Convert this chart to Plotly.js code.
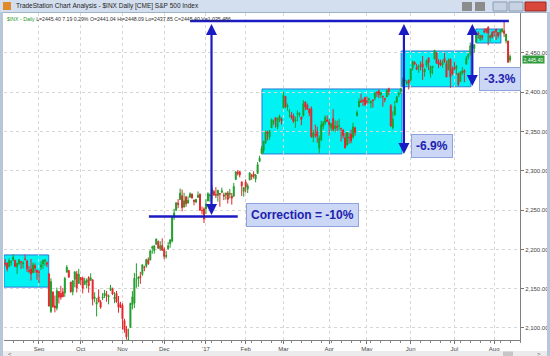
<!DOCTYPE html>
<html><head><meta charset="utf-8">
<script src="https://cdn.plot.ly/plotly-3.0.1.min.js"></script>
<style>html,body{margin:0;padding:0;background:#fff;overflow:hidden}#chart{width:550px;height:356px}</style>
</head><body><div id="chart"></div>
<script>
const dates = [
"2016-08-09","2016-08-10","2016-08-11","2016-08-12","2016-08-15","2016-08-16","2016-08-17","2016-08-18","2016-08-19","2016-08-22","2016-08-23","2016-08-24","2016-08-25","2016-08-26","2016-08-29","2016-08-30","2016-08-31",
"2016-09-01","2016-09-02","2016-09-06","2016-09-07","2016-09-08","2016-09-09","2016-09-12","2016-09-13","2016-09-14","2016-09-15","2016-09-16","2016-09-19","2016-09-20","2016-09-21","2016-09-22","2016-09-23","2016-09-26","2016-09-27","2016-09-28","2016-09-29","2016-09-30",
"2016-10-03","2016-10-04","2016-10-05","2016-10-06","2016-10-07","2016-10-10","2016-10-11","2016-10-12","2016-10-13","2016-10-14","2016-10-17","2016-10-18","2016-10-19","2016-10-20","2016-10-21","2016-10-24","2016-10-25","2016-10-26","2016-10-27","2016-10-28","2016-10-31",
"2016-11-01","2016-11-02","2016-11-03","2016-11-04","2016-11-07","2016-11-08","2016-11-09","2016-11-10","2016-11-11","2016-11-14","2016-11-15","2016-11-16","2016-11-17","2016-11-18","2016-11-21","2016-11-22","2016-11-23","2016-11-25","2016-11-28","2016-11-29","2016-11-30",
"2016-12-01","2016-12-02","2016-12-05","2016-12-06","2016-12-07","2016-12-08","2016-12-09","2016-12-12","2016-12-13","2016-12-14","2016-12-15","2016-12-16","2016-12-19","2016-12-20","2016-12-21","2016-12-22","2016-12-23","2016-12-27","2016-12-28","2016-12-29","2016-12-30",
"2017-01-03","2017-01-04","2017-01-05","2017-01-06","2017-01-09","2017-01-10","2017-01-11","2017-01-12","2017-01-13","2017-01-17","2017-01-18","2017-01-19","2017-01-20","2017-01-23","2017-01-24","2017-01-25","2017-01-26","2017-01-27","2017-01-30","2017-01-31",
"2017-02-01","2017-02-02","2017-02-03","2017-02-06","2017-02-07","2017-02-08","2017-02-09","2017-02-10","2017-02-13","2017-02-14","2017-02-15","2017-02-16","2017-02-17","2017-02-21","2017-02-22","2017-02-23","2017-02-24","2017-02-27","2017-02-28",
"2017-03-01","2017-03-02","2017-03-03","2017-03-06","2017-03-07","2017-03-08","2017-03-09","2017-03-10","2017-03-13","2017-03-14","2017-03-15","2017-03-16","2017-03-17","2017-03-20","2017-03-21","2017-03-22","2017-03-23","2017-03-24","2017-03-27","2017-03-28","2017-03-29","2017-03-30","2017-03-31",
"2017-04-03","2017-04-04","2017-04-05","2017-04-06","2017-04-07","2017-04-10","2017-04-11","2017-04-12","2017-04-13","2017-04-17","2017-04-18","2017-04-19","2017-04-20","2017-04-21","2017-04-24","2017-04-25","2017-04-26","2017-04-27","2017-04-28",
"2017-05-01","2017-05-02","2017-05-03","2017-05-04","2017-05-05","2017-05-08","2017-05-09","2017-05-10","2017-05-11","2017-05-12","2017-05-15","2017-05-16","2017-05-17","2017-05-18","2017-05-19","2017-05-22","2017-05-23","2017-05-24","2017-05-25","2017-05-26","2017-05-30","2017-05-31",
"2017-06-01","2017-06-02","2017-06-05","2017-06-06","2017-06-07","2017-06-08","2017-06-09","2017-06-12","2017-06-13","2017-06-14","2017-06-15","2017-06-16","2017-06-19","2017-06-20","2017-06-21","2017-06-22","2017-06-23","2017-06-26","2017-06-27","2017-06-28","2017-06-29","2017-06-30",
"2017-07-03","2017-07-05","2017-07-06","2017-07-07","2017-07-10","2017-07-11","2017-07-12","2017-07-13","2017-07-14","2017-07-17","2017-07-18","2017-07-19","2017-07-20","2017-07-21","2017-07-24","2017-07-25","2017-07-26","2017-07-27","2017-07-28","2017-07-31",
"2017-08-01","2017-08-02","2017-08-03","2017-08-04","2017-08-07","2017-08-08","2017-08-09","2017-08-10","2017-08-11"];

const openP = [
2182.2,2182.8,2178.0,2183.7,2186.1,2186.2,2177.8,2181.9,2184.2,2181.6,2187.8,2185.1,2173.3,2175.1,2170.2,2179.5,2173.6,
2171.3,2177.5,2181.6,2185.2,2182.8,2169.1,2120.9,2146.0,2127.9,2125.4,2146.5,2144.0,2145.9,2144.6,2170.9,2173.3,2158.5,2146.0,2161.9,2168.9,2156.5,
2164.3,2163.4,2155.2,2158.2,2164.2,2160.4,2161.4,2137.7,2130.3,2139.7,2133.0,2138.3,2140.8,2142.5,2139.4,2148.5,2149.7,2137.0,2144.1,2132.2,2129.8,
2128.7,2109.4,2098.8,2083.8,2100.6,2129.9,2131.6,2167.5,2162.7,2165.6,2168.3,2177.5,2178.6,2186.9,2186.4,2201.6,2198.6,2206.3,2210.2,2200.8,2205.0,
2200.2,2191.1,2200.7,2207.3,2210.7,2241.1,2249.7,2258.8,2263.3,2268.4,2253.8,2266.8,2259.2,2266.5,2270.5,2262.9,2260.3,2266.2,2270.2,2249.5,2251.6,
2251.6,2261.6,2268.2,2271.1,2273.6,2269.7,2268.6,2271.1,2272.7,2269.1,2269.1,2271.9,2270.0,2267.8,2267.9,2288.9,2298.6,2299.0,2286.0,2274.0,
2285.6,2276.7,2288.5,2294.3,2295.9,2289.6,2296.7,2312.3,2321.7,2326.1,2335.6,2349.6,2343.0,2354.9,2361.1,2367.5,2355.7,2365.2,2366.1,
2380.1,2394.8,2380.9,2375.2,2370.7,2369.8,2363.5,2372.5,2371.6,2368.6,2370.3,2387.7,2383.7,2378.2,2379.3,2343.0,2346.0,2350.4,2329.1,2339.8,2356.5,2361.3,2364.8,
2362.3,2354.8,2366.6,2353.8,2356.6,2357.2,2353.9,2352.2,2342.0,2332.6,2342.5,2346.8,2342.7,2354.7,2370.3,2381.5,2389.0,2389.7,2393.7,
2388.5,2391.1,2386.5,2389.8,2392.4,2399.9,2401.6,2396.8,2394.8,2392.4,2394.0,2404.6,2383.0,2354.7,2371.4,2387.2,2397.0,2401.4,2409.5,2414.5,2411.7,2415.6,
2415.7,2431.3,2437.8,2431.9,2432.0,2434.3,2436.4,2425.9,2434.2,2443.8,2424.1,2431.2,2442.6,2450.7,2439.3,2437.4,2434.7,2443.3,2436.3,2428.7,2442.4,2429.2,
2431.4,2430.8,2423.8,2413.5,2424.5,2427.4,2435.8,2445.0,2449.2,2459.5,2455.9,2463.9,2475.6,2467.4,2472.0,2477.9,2480.0,2482.8,2469.1,2475.9,
2477.1,2480.4,2476.0,2476.1,2477.1,2478.4,2465.4,2465.4,2441.0];

const highP = [
2187.7,2183.4,2188.5,2186.3,2193.8,2186.2,2183.1,2187.0,2185.0,2185.2,2193.4,2186.7,2179.0,2187.9,2183.5,2182.3,2173.8,
2173.6,2184.9,2186.6,2187.9,2184.9,2169.1,2163.3,2146.0,2141.3,2151.3,2146.5,2153.6,2150.8,2165.1,2180.0,2173.8,2158.5,2161.1,2172.4,2172.7,2175.3,
2164.4,2165.5,2164.0,2162.9,2165.9,2169.6,2161.6,2145.4,2138.2,2149.2,2135.7,2144.4,2148.4,2147.2,2142.6,2154.8,2151.4,2145.7,2147.1,2140.7,2133.3,
2131.5,2111.8,2102.6,2099.1,2132.0,2146.9,2170.1,2182.3,2165.9,2171.4,2180.8,2179.2,2188.1,2189.9,2198.7,2204.8,2204.7,2213.4,2211.1,2210.5,2214.1,
2202.6,2198.0,2209.4,2212.8,2241.6,2251.7,2259.8,2264.0,2277.5,2276.2,2272.1,2268.1,2267.5,2272.6,2271.2,2263.2,2263.8,2273.8,2271.3,2254.5,2253.6,
2263.9,2272.8,2271.5,2282.1,2275.5,2279.3,2275.3,2271.8,2278.7,2272.1,2272.0,2274.3,2277.0,2271.8,2284.6,2299.6,2301.0,2299.0,2286.0,2279.1,
2289.1,2284.0,2298.3,2296.2,2299.4,2295.9,2311.1,2319.2,2331.6,2337.6,2351.3,2351.3,2351.2,2366.7,2365.1,2368.3,2367.3,2371.5,2367.8,
2401.0,2394.8,2385.7,2378.8,2375.1,2373.1,2369.1,2376.9,2374.4,2368.6,2390.0,2388.1,2385.7,2379.6,2381.9,2351.8,2358.9,2356.2,2344.9,2363.8,2363.4,2370.4,2370.4,
2365.9,2360.5,2378.4,2364.2,2363.8,2366.4,2355.2,2352.7,2348.3,2349.1,2348.4,2352.6,2361.4,2356.2,2377.0,2392.5,2398.2,2392.1,2393.7,
2394.5,2392.9,2389.8,2391.4,2399.3,2401.4,2403.9,2399.7,2395.7,2392.4,2404.1,2405.8,2384.9,2375.7,2389.1,2395.5,2400.9,2405.6,2418.7,2416.7,2415.3,2416.0,
2430.1,2440.2,2439.6,2436.2,2435.3,2439.3,2446.2,2430.4,2441.5,2443.8,2434.0,2433.2,2453.8,2450.7,2442.2,2441.6,2441.4,2450.4,2440.2,2443.0,2442.7,2432.7,
2439.2,2434.9,2424.9,2426.9,2432.0,2429.3,2445.8,2449.3,2463.5,2462.8,2460.9,2473.8,2477.6,2472.5,2473.1,2481.2,2481.7,2484.0,2473.5,2478.0,
2478.5,2480.4,2476.0,2480.0,2481.0,2490.9,2474.4,2465.4,2448.1];

const lowP = [
2178.6,2172.0,2178.0,2179.4,2186.1,2178.1,2168.5,2180.5,2175.1,2176.0,2186.8,2171.3,2169.7,2160.4,2170.2,2170.4,2161.4,
2157.1,2173.6,2175.1,2179.1,2177.5,2127.8,2119.1,2125.8,2119.9,2122.4,2131.2,2135.9,2139.2,2139.6,2170.9,2164.0,2145.0,2141.6,2151.8,2145.2,2156.5,
2154.8,2144.0,2155.2,2150.3,2144.9,2160.4,2128.8,2132.8,2114.7,2133.0,2124.4,2135.5,2138.2,2133.4,2130.1,2146.9,2141.9,2131.6,2132.5,2119.4,2125.5,
2097.9,2094.0,2085.2,2083.8,2100.6,2123.6,2125.4,2151.2,2152.5,2156.1,2166.4,2172.2,2176.7,2180.4,2186.4,2194.5,2194.5,2206.3,2200.4,2198.2,2198.8,
2187.4,2188.4,2200.0,2202.2,2208.9,2237.6,2249.2,2252.4,2263.3,2248.4,2253.8,2254.2,2258.2,2266.1,2265.2,2256.1,2258.8,2266.2,2249.1,2244.6,2233.6,
2245.1,2261.6,2260.5,2264.1,2268.9,2265.3,2260.8,2254.3,2271.5,2262.8,2263.4,2258.4,2265.0,2257.0,2266.7,2288.9,2294.1,2291.6,2268.0,2267.2,
2272.4,2271.7,2287.9,2288.6,2290.2,2285.4,2296.6,2311.1,2321.4,2322.2,2334.8,2338.9,2339.6,2354.9,2358.3,2355.1,2352.9,2361.9,2359.0,
2380.1,2380.2,2376.7,2368.0,2365.5,2361.0,2354.5,2363.0,2368.5,2358.2,2368.9,2377.2,2377.6,2369.7,2341.9,2336.5,2342.1,2335.7,2322.3,2337.6,2352.9,2358.6,2362.6,
2344.7,2350.7,2350.5,2348.9,2350.7,2351.5,2337.3,2341.2,2329.0,2332.5,2334.5,2335.1,2340.9,2344.5,2369.2,2381.2,2386.8,2382.7,2382.4,
2384.8,2385.8,2379.8,2380.4,2389.4,2393.9,2392.4,2392.8,2381.7,2387.2,2393.9,2396.1,2356.2,2352.7,2370.4,2386.9,2393.9,2398.0,2408.0,2412.2,2409.4,2403.6,
2413.5,2427.7,2434.3,2428.1,2424.8,2427.9,2415.7,2420.0,2431.3,2428.3,2418.5,2422.9,2441.8,2436.6,2430.7,2433.3,2431.1,2437.0,2419.4,2428.0,2405.7,2421.7,
2428.7,2422.1,2407.7,2413.5,2422.3,2412.8,2435.8,2441.7,2446.7,2457.2,2450.3,2463.9,2468.4,2465.1,2466.3,2474.9,2474.9,2459.9,2464.7,2468.5,
2471.1,2466.5,2468.9,2472.1,2475.9,2470.3,2462.1,2437.8,2437.9];

const closeP = [
2181.7,2175.5,2185.8,2184.1,2190.2,2178.2,2182.2,2187.0,2183.9,2182.6,2186.9,2175.4,2172.5,2169.0,2180.4,2176.1,2171.0,
2170.9,2180.0,2186.5,2186.2,2181.3,2127.8,2159.0,2127.0,2125.8,2147.3,2139.2,2139.1,2139.8,2163.1,2177.2,2164.7,2146.1,2159.9,2171.4,2151.1,2168.3,
2161.2,2150.5,2159.7,2160.8,2153.7,2163.7,2136.7,2139.2,2132.6,2133.0,2126.5,2139.6,2144.3,2141.3,2141.2,2151.3,2143.2,2139.4,2133.0,2126.4,2126.2,
2111.7,2097.9,2088.7,2085.2,2131.5,2139.6,2163.3,2167.5,2164.5,2164.2,2180.4,2176.9,2187.1,2181.9,2198.2,2202.9,2204.7,2213.4,2201.7,2204.7,2198.8,
2191.1,2192.0,2204.7,2212.2,2241.4,2246.2,2259.5,2257.0,2271.7,2253.3,2262.0,2258.1,2262.5,2270.8,2265.2,2261.0,2263.8,2268.9,2249.9,2249.3,2238.8,
2257.8,2270.8,2269.0,2277.0,2268.9,2268.9,2275.3,2270.4,2274.6,2267.9,2271.9,2263.7,2271.3,2265.2,2280.1,2298.4,2296.7,2294.7,2280.9,2278.9,
2279.6,2280.9,2297.4,2292.6,2293.1,2294.7,2307.9,2316.1,2328.3,2337.6,2349.3,2347.2,2351.2,2365.4,2362.8,2363.8,2367.3,2369.7,2363.6,
2396.0,2381.9,2383.1,2375.3,2368.4,2363.0,2364.9,2372.6,2373.5,2365.5,2385.3,2381.4,2378.3,2373.5,2344.0,2348.5,2346.0,2344.0,2341.6,2358.6,2361.1,2368.1,2362.7,
2358.8,2360.2,2353.0,2357.5,2355.5,2357.2,2353.8,2344.9,2329.0,2349.0,2342.2,2338.2,2355.8,2348.7,2374.2,2388.6,2387.5,2388.8,2384.2,
2388.3,2391.2,2388.1,2389.5,2399.3,2399.4,2396.9,2399.6,2394.4,2390.9,2402.3,2400.7,2357.0,2365.7,2381.7,2394.0,2398.4,2404.4,2415.1,2415.8,2412.9,2411.8,
2430.1,2439.1,2436.1,2429.3,2433.1,2433.8,2431.8,2429.4,2440.4,2437.9,2432.5,2433.2,2453.5,2437.0,2435.6,2434.5,2438.3,2439.1,2419.4,2440.7,2419.7,2423.4,
2429.0,2432.5,2409.8,2425.2,2427.4,2425.5,2443.3,2447.8,2459.3,2459.1,2460.6,2473.8,2473.5,2472.5,2469.9,2477.1,2477.8,2475.4,2472.1,2470.3,
2476.4,2477.6,2472.2,2476.8,2480.9,2474.9,2474.0,2438.2,2445.4];

const monthLabels = ["Sep","Oct","Nov","Dec","'17","Feb","Mar","Apr","May","Jun","Jul","Aug"];
const yTickVals = [2100,2150,2200,2250,2300,2350,2400,2450];

const peakHigh = 2490.87;
const correctionLevel = 2241.8;
const lastPrice = 2445.40;
const titleText = "TradeStation Chart Analysis - $INX Daily [CME] S&amp;P 500 Index";
const statusSymbol = "$INX - Daily";
const statusValues = "L=2445.40 7.19 0.29% O=2441.04 Hi=2448.09 Lo=2437.85 C=2445.40 V=1,035,486";

// ---- build ----
const xi = dates.map((d, i) => i);
const pos = (d, off) => dates.indexOf(d) + (off || 0);
const tickVals = [];
for (let i = 1; i < dates.length; i++) if (dates[i].slice(0, 7) !== dates[i - 1].slice(0, 7)) tickVals.push(i);

const L = 4, R = 520, T = 13, B = 340;
const px = x => (x - L) / (R - L);
const py = y => (B - y) / (B - T);
const nb = s => s.replace(/ /g, "\u00a0");

const LINE = "#1b1bc4";
const CYAN = "#00f2f2";
const shapes = [];
const rect = (x0, x1, y0, y1, fill, extra) => Object.assign({type: "rect", xref: "paper", yref: "paper", x0: px(x0), x1: px(x1), y0: py(y1), y1: py(y0), fillcolor: fill, line: {width: 0}, layer: "above"}, extra || {});

// cyan range boxes
const boxes = [
  [-0.6, pos("2016-09-08", 0.9), 2152, 2193],
  [pos("2017-02-13", 0.2), pos("2017-05-24", 0.6), 2321.5, 2404.2],
  [pos("2017-05-24", 0.2), pos("2017-07-14", 0.3), 2407, 2452.5],
  [pos("2017-07-18", 0.8), pos("2017-08-04", 0.4), 2462.7, 2480.5]
];
boxes.forEach(b => shapes.push({type: "rect", xref: "x", yref: "y", x0: b[0], x1: b[1], y0: b[2], y1: b[3], fillcolor: CYAN, line: {color: "#2a7ad6", width: 1}, layer: "below"}));
// horizontal reference lines
shapes.push({type: "line", xref: "x", yref: "y", x0: pos("2016-12-20"), x1: pos("2017-08-10", 0.4), y0: peakHigh, y1: peakHigh, line: {color: LINE, width: 2.5}, layer: "above"});
shapes.push({type: "line", xref: "x", yref: "y", x0: pos("2016-11-18", 0.3), x1: pos("2017-01-25", 1), y0: correctionLevel, y1: correctionLevel, line: {color: LINE, width: 2.5}, layer: "above"});

// window frame
shapes.push(rect(0, 550, 0, 12.5, "#d3dfee"));
shapes.push(rect(0, 550, 12, 13, "#9fb2c9"));
shapes.push(rect(0, 3, 12, 356, "#b7c6d9"));
shapes.push(rect(547, 550, 12, 356, "#b7c6d9"));
shapes.push(rect(3, 547, 351, 356, "#ececec"));
shapes.push(rect(503, 513, 351.5, 356, "#c6c6c6"));
shapes.push(rect(3, 11, 2, 10, "#e08a2a"));
shapes.push(rect(462, 472, 2, 11, "#8c8c8c"));
shapes.push(rect(475, 485, 2, 11, "#8c8c8c"));
shapes.push(rect(493, 507, 2, 11, "#c7d3e2", {line: {color: "#8a9bb2", width: 1}}));
shapes.push(rect(509, 523, 2, 11, "#c7d3e2", {line: {color: "#8a9bb2", width: 1}}));
shapes.push(rect(525, 546, 2, 11, "#d9463a", {line: {color: "#9a2a20", width: 1}}));

const annotations = [];
const arrow = (xv, y0, y1) => ({x: xv, y: y1, ax: xv, ay: y0, xref: "x", yref: "y", axref: "x", ayref: "y", text: "", showarrow: true, arrowhead: 2, arrowside: "end+start", arrowsize: 1, arrowwidth: 2.2, arrowcolor: LINE});
annotations.push(arrow(pos("2017-01-05", 0.8), peakHigh - 2, correctionLevel + 2));
annotations.push(arrow(pos("2017-05-26", -0.4), peakHigh - 2, 2321.5));
annotations.push(arrow(pos("2017-07-17"), peakHigh - 2, 2408));

const label = (xv, yv, txt) => ({x: xv, y: yv, xref: "x", yref: "y", text: "<b>" + txt + "</b>", showarrow: false, font: {family: "Liberation Sans, Arial, sans-serif", size: 12, color: "#2121b0"}, bgcolor: "#cbd7f4", bordercolor: "#8fa3dc", borderwidth: 1, borderpad: 4});
annotations.push(label(pos("2017-03-14", 0.5), 2243.5, "Correction = -10%"));
annotations.push(label(pos("2017-06-15", 0.7), 2331, "-6.9%"));
annotations.push(label(pos("2017-08-03", 0.9), 2417, "-3.3%"));

annotations.push({xref: "paper", yref: "paper", x: px(14), y: py(6.5), xanchor: "left", yanchor: "middle", showarrow: false, text: nb(titleText), font: {family: "Liberation Sans, Arial, sans-serif", size: 6.5, color: "#1e1e1e"}});
annotations.push({xref: "paper", yref: "paper", x: px(5), y: py(18.5), xanchor: "left", yanchor: "middle", showarrow: false, text: '<span style="color:#1f9a1f">' + nb(statusSymbol) + "</span>" + nb(" " + statusValues), font: {family: "Liberation Sans, Arial, sans-serif", size: 5.2, color: "#303030"}});
annotations.push({xref: "paper", yref: "y", x: 1, xanchor: "left", xshift: 2, y: lastPrice, yshift: -2.5, yanchor: "middle", showarrow: false, text: "2,445.40", bgcolor: "#2e9a3a", font: {family: "Liberation Sans, Arial, sans-serif", size: 5, color: "#ffffff"}, borderpad: 0.5});
annotations.push({xref: "paper", yref: "paper", x: px(6), y: py(353.5), xanchor: "left", yanchor: "middle", showarrow: false, text: "&lt;", font: {size: 6, color: "#555"}});
annotations.push({xref: "paper", yref: "paper", x: px(543), y: py(353.5), xanchor: "right", yanchor: "middle", showarrow: false, text: "&gt;", font: {size: 6, color: "#555"}});

const trace = {
  type: "candlestick", x: xi, open: openP, high: highP, low: lowP, close: closeP,
  increasing: {line: {color: "#1f9e2a", width: 1}, fillcolor: "#1f9e2a"},
  decreasing: {line: {color: "#e3262a", width: 1}, fillcolor: "#e3262a"},
  whiskerwidth: 0, hoverinfo: "skip", showlegend: false
};

const layout = {
  width: 550, height: 356,
  margin: {l: L, r: 550 - R, t: T, b: 356 - B, pad: 0},
  paper_bgcolor: "#ffffff", plot_bgcolor: "#ffffff",
  showlegend: false,
  font: {family: "Liberation Sans, Arial, sans-serif", size: 6, color: "#444"},
  xaxis: {
    range: [-0.6, 259], tickmode: "array", tickvals: tickVals, ticktext: monthLabels,
    ticks: "outside", ticklen: 3, tickcolor: "#777", tickfont: {size: 6, color: "#444"},
    showline: true, linecolor: "#808080", linewidth: 1,
    showgrid: true, gridcolor: "#d6d6d6", griddash: "dot", gridwidth: 1, zeroline: false,
    rangeslider: {visible: false}, fixedrange: true,
    minor: {ticks: "outside", ticklen: 2, tickcolor: "#888", tickmode: "linear", tick0: 4, dtick: 5, showgrid: false}
  },
  yaxis: {
    side: "right", range: [2084.7, 2500.9], tickmode: "array", tickvals: yTickVals,
    tickformat: ",.2f", ticks: "outside", ticklen: 3, tickcolor: "#777", tickfont: {size: 6, color: "#444"},
    showline: true, linecolor: "#808080", linewidth: 1,
    showgrid: true, gridcolor: "#d6d6d6", griddash: "dot", gridwidth: 1, zeroline: false, fixedrange: true
  },
  shapes: shapes, annotations: annotations
};

Plotly.newPlot("chart", [trace], layout, {displayModeBar: false, staticPlot: true});
</script></body></html>
